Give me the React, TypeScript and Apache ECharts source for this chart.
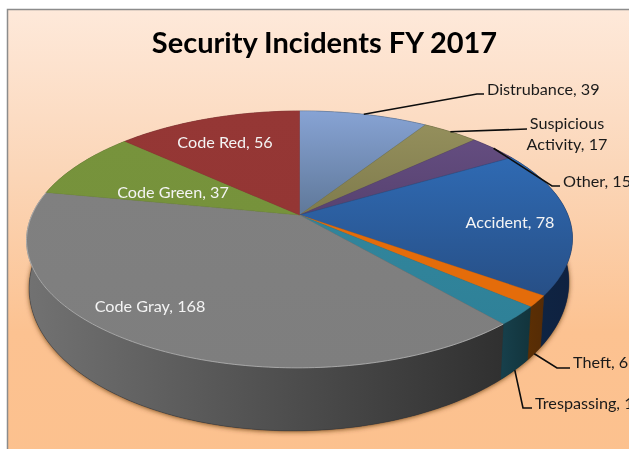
import React, { useEffect, useRef } from "react";
import * as echarts from "echarts";

// Clockwise from twelve o'clock.
const categories = [
  "Distrubance",
  "Suspicious Activity",
  "Other",
  "Accident",
  "Theft",
  "Trespassing",
  "Code Gray",
  "Code Green",
  "Code Red",
];
const incidents = [39, 17, 15, 78, 6, 10, 168, 37, 56];

const topFaceColors = [
  ["#87a3d4", "#5f7899"],
  ["#948f5c", "#7f7b4c"],
  ["#644d80", "#574270"],
  ["#2f6ab3", "#274f86"],
  ["#e46c0a", "#e46c0a"],
  ["#31859c", "#2f8198"],
  ["#808080", "#7e7e7e"],
  ["#77933c", "#76923b"],
  ["#953735", "#943634"],
];
const wallColors = [
  ["#3d5170", "#3d5170"],
  ["#4c4a2c", "#4c4a2c"],
  ["#32264a", "#32264a"],
  ["#0e2745", "#0f2140"],
  ["#5c2f04", "#552c06"],
  ["#17404c", "#12343c"],
  ["#727272", "#303030"],
  ["#3f4f20", "#3f4f20"],
  ["#4f1d1c", "#4f1d1c"],
];

// Where each label sits, and the bends of its leader line when it has one.
type Placement = { x: number; y: number; align: string; color: string; bend?: number[][]; onBase?: boolean };
const DARK = "#1a1a1a";
const LIGHT = "#f4f4f4";
const placements: Placement[] = [
  { x: 487, y: 88, align: "left", color: DARK, bend: [[477, 94], [484, 94]] },
  { x: 567, y: 132.5, align: "center", color: DARK, bend: [[527, 129]] },
  { x: 563, y: 180, align: "left", color: DARK, bend: [[552, 186], [560, 186]] },
  { x: 510, y: 221, align: "center", color: LIGHT },
  { x: 573, y: 361, align: "left", color: DARK, bend: [[557, 368], [570, 368]], onBase: true },
  { x: 535, y: 402, align: "left", color: DARK, bend: [[523, 408], [532, 408]], onBase: true },
  { x: 150, y: 305, align: "center", color: LIGHT },
  { x: 173, y: 191, align: "center", color: LIGHT },
  { x: 225, y: 141, align: "center", color: LIGHT },
];
const labelLines = ["Distrubance", "Suspicious\nActivity", "Other", "Accident", "Theft", "Trespassing", "Code Gray", "Code Green", "Code Red"];

const FONT = "Lato";
const PERSPECTIVE = 0.19;
const topDisc = { x0: 299.5, y0: 215, kx: 268, ky: 123.8, shear: 0.004 };
const baseDisc = { x0: 299, y0: 257.6, kx: 265, ky: 140.3, shear: 0.012 };

type Disc = typeof topDisc;

// Projects a point on the unit circle, at a clockwise angle from the top, onto a disc.
function project(disc: Disc, degrees: number, radius = 1): number[] {
  const a = (degrees * Math.PI) / 180;
  const u = Math.sin(a) * radius;
  const v = -Math.cos(a) * radius;
  const d = 1 - PERSPECTIVE * v;
  const x = disc.kx * (u / d);
  const y = disc.ky * (v / d);
  return [disc.x0 + x, disc.y0 + y + disc.shear * -x];
}

function arc(disc: Disc, from: number, to: number): number[][] {
  const steps = Math.max(2, Math.ceil(to - from));
  const points: number[][] = [];
  for (let i = 0; i <= steps; i++) points.push(project(disc, from + ((to - from) * i) / steps));
  return points;
}

const total = incidents.reduce((s, v) => s + v, 0);
const spans = incidents.map((_, i) => {
  const before = incidents.slice(0, i).reduce((s, v) => s + v, 0);
  return [(before / total) * 360, ((before + incidents[i]) / total) * 360];
});

const gradient = (pair: string[], horizontal: boolean) =>
  new echarts.graphic.LinearGradient(0, 0, horizontal ? 1 : 0, horizontal ? 0 : 1, [
    { offset: 0, color: pair[0] },
    { offset: 1, color: pair[1] },
  ]);

const rows = categories.map((name, i) => ({ name, value: incidents[i] }));

function renderWall(params: any) {
  const i = params.dataIndex;
  const [from, to] = spans[i];
  const upper = arc(topDisc, from, to);
  const lower = arc(baseDisc, from, to).reverse();
  return {
    type: "polygon",
    silent: true,
    shape: { points: upper.concat(lower) },
    style: { fill: gradient(wallColors[i], true), stroke: wallColors[i][1], lineWidth: 0.4 },
  };
}

function renderTop(params: any) {
  const i = params.dataIndex;
  const [from, to] = spans[i];
  const rim = arc(topDisc, from, to);
  const children: any[] = [
    {
      type: "polygon",
      silent: true,
      shape: { points: [[topDisc.x0, topDisc.y0], ...rim] },
      style: { fill: gradient(topFaceColors[i], false), stroke: topFaceColors[i][1], lineWidth: 0.4 },
    },
  ];
  if (categories[i] === "Code Gray") {
    children.push({
      type: "polyline",
      silent: true,
      shape: { points: rim },
      style: { fill: "none", stroke: "rgba(205,205,205,0.6)", lineWidth: 1 },
    });
  }
  return { type: "group", children };
}

function renderLabel(params: any, api: any) {
  const i = params.dataIndex;
  const spot = placements[i];
  const [from, to] = spans[i];
  const children: any[] = [];
  if (spot.bend) {
    const anchor = project(spot.onBase ? baseDisc : topDisc, (from + to) / 2);
    children.push({
      type: "polyline",
      silent: true,
      shape: { points: [anchor, ...spot.bend] },
      style: { fill: "none", stroke: "#0d0d0d", lineWidth: 1.6 },
    });
  }
  children.push({
    type: "text",
    silent: true,
    x: spot.x,
    y: spot.y,
    style: {
      text: `${labelLines[i]}, ${api.value(0)}`,
      font: `16.2px ${FONT}`,
      fill: spot.color,
      align: spot.align,
      verticalAlign: "middle",
      lineHeight: 21,
    },
  });
  return { type: "group", children };
}

export default function App() {
  const host = useRef<HTMLDivElement>(null);

  useEffect(() => {
    const chart = echarts.init(host.current!, undefined, { renderer: "svg" });
    chart.setOption({
      animation: false,
      title: {
        text: "Security Incidents FY 2017",
        left: 319.5,
        top: 22,
        textAlign: "center",
        textStyle: { fontFamily: FONT, fontSize: 29, fontWeight: "bold", color: "#000000" },
      },
      graphic: [
        {
          type: "rect",
          silent: true,
          z: -10,
          shape: { x: 7.5, y: 9.5, width: 640, height: 460 },
          style: {
            fill: new echarts.graphic.LinearGradient(0, 0, 0, 1, [
              { offset: 0, color: "#fee9da" },
              { offset: 0.35, color: "#fbd6b8" },
              { offset: 0.7, color: "#fcc291" },
              { offset: 1, color: "#fcc18e" },
            ]),
            stroke: "#8c8c8c",
            lineWidth: 1.5,
          },
        },
      ],
      series: [
        {
          type: "custom",
          coordinateSystem: "none",
          silent: true,
          z: 1,
          data: [{ value: total }],
          renderItem: () => ({
            type: "polygon",
            silent: true,
            shape: { points: arc(baseDisc, 0, 360) },
            style: {
              fill: "#3a3a3a",
              shadowBlur: 5,
              shadowOffsetY: 1,
              shadowColor: "rgba(90,45,0,0.8)",
            },
          }),
        },
        { type: "custom", coordinateSystem: "none", silent: true, z: 2, data: rows, renderItem: renderWall },
        { type: "custom", coordinateSystem: "none", silent: true, z: 3, data: rows, renderItem: renderTop },
        { type: "custom", coordinateSystem: "none", silent: true, z: 4, data: rows, renderItem: renderLabel },
      ],
    });
    return () => chart.dispose();
  }, []);

  return <div ref={host} style={{ position: "fixed", left: 0, top: 0, width: 629, height: 449 }} />;
}
